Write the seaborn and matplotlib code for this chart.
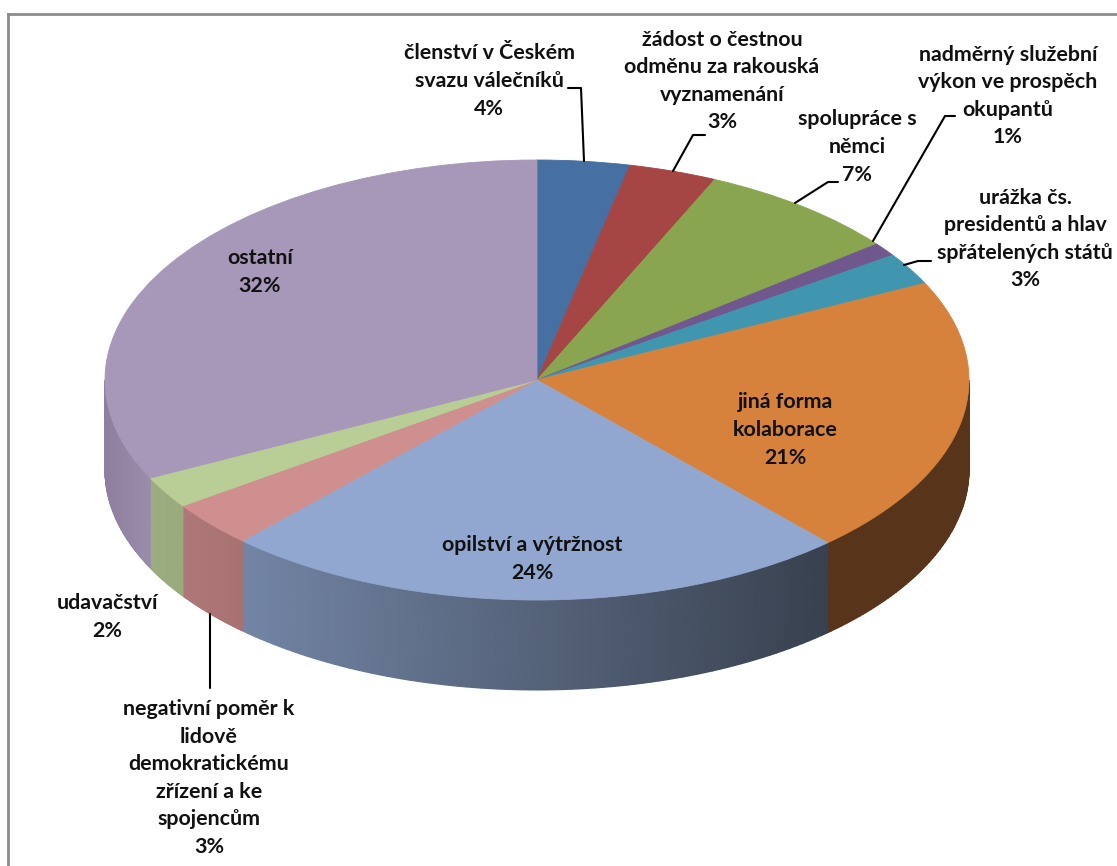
import numpy as np
import matplotlib
matplotlib.use("Agg")
import matplotlib.pyplot as plt
from matplotlib.colors import LinearSegmentedColormap
from matplotlib.transforms import Affine2D
import seaborn as sns

# ---------- data ----------
categories = ["členství v Českém\nsvazu válečníků", "žádost o čestnou\nodměnu za rakouská\nvyznamenání",
              "spolupráce s\nněmci", "nadměrný služební\nvýkon ve prospěch\nokupantů",
              "urážka čs.\npresidentů a hlav\nspřátelených států", "jiná forma\nkolaborace",
              "opilství a výtržnost", "negativní poměr k\nlidově\ndemokratickému\nzřízení a ke\nspojencům",
              "udavačství", "ostatní"]
percent_labels = ["4%", "3%", "7%", "1%", "3%", "21%", "24%", "3%", "2%", "32%"]
values = [3.45, 3.3, 7.65, 1.0, 2.35, 20.5, 23.7, 3.35, 2.35, 32.35]
top_colors = ["#466fa2", "#a54544", "#8aa54f", "#70588f", "#4096ae", "#d6823c",
              "#92a7cf", "#ce8f8e", "#b9cd96", "#a797b9"]
wall_left = ["#000000"] * 5 + ["#57341a", "#7385a5", "#ae7878", "#9cad80", "#8f7f9e"]
wall_right = ["#000000"] * 5 + ["#57341a", "#38414f", "#a87272", "#9aaa7c", "#9a8cab"]
label_centers = [(489, 81), (722, 81), (857, 147), (1008, 96), (1025, 239),
                 (785, 430), (532, 559), (209, 778), (107, 617), (260, 272)]
leaders = {0: ([568, 581, 584], [88, 88, 161]),
           1: ([705, 693, 673], [135, 135, 171]),
           2: ([838, 828, 795], [182, 182, 203]),
           3: ([955, 945, 873], [116, 116, 241]),
           4: ([931, 918, 904], [261, 261, 265]),
           7: ([210, 210], [614, 688])}

# ---------- geometry of the chart in pixels ----------
W, H = 1117, 866
CX, CY, RX, RY, DEPTH = 537, 380, 432, 220, 90
LEFT, TOP = 8, 14

sns.set_theme(style="white")
plt.rcParams["font.family"] = ["Lato", "DejaVu Sans"]
fig = plt.figure(figsize=(W / 100, H / 100), dpi=100, facecolor="white")
ax = fig.add_axes([LEFT / W, 0, (W - LEFT) / W, (H - TOP) / H])

wedges, _ = ax.pie(values, colors=top_colors, startangle=90, counterclock=False, radius=1,
                   wedgeprops=dict(linewidth=0.6, zorder=3))
for w, c in zip(wedges, top_colors):
    w.set_edgecolor(c)

ax.set_aspect("auto")
ax.set_frame_on(True)
ax.set_xlim((LEFT - CX) / RX, (W - CX) / RX)
ax.set_ylim((CY - H) / RY, (CY - TOP) / RY)
ax.set_xticks([])
ax.set_yticks([])
for side in ("right", "bottom"):
    ax.spines[side].set_visible(False)
for side in ("top", "left"):
    ax.spines[side].set_visible(True)
    ax.spines[side].set_color("#8c8c8c")
    ax.spines[side].set_linewidth(2)

# side wall, taken from the same cumulative shares
edges = np.concatenate([[0], np.cumsum(values)]) / np.sum(values) * 360
d = DEPTH / RY
for i in range(len(values)):
    a, b = max(edges[i], 90), min(edges[i + 1], 270)
    if a >= b:
        continue
    th = np.radians(np.linspace(a, b, 80))
    xs, ys = np.sin(th), np.cos(th)
    X = np.vstack([xs, xs])
    Y = np.vstack([ys, ys - d])
    cmap = LinearSegmentedColormap.from_list("w", [wall_left[i], wall_right[i]])
    C = (X - X.min()) / (X.max() - X.min())
    ax.pcolormesh(X, Y, C, cmap=cmap, shading="gouraud", vmin=0, vmax=1, zorder=2)

pixels = Affine2D().scale(1, -1).translate(0, H)
for i, (cat, pct) in enumerate(zip(categories, percent_labels)):
    x, y = label_centers[i]
    ax.text(x, y, f"{cat}\n{pct}", transform=pixels, ha="center", va="center", ma="center",
            fontsize=15.4, fontweight="bold", color="#111111", linespacing=1.47, zorder=5, clip_on=False)
for i, (lx, ly) in leaders.items():
    ax.plot(lx, ly, transform=pixels, color="black", lw=1.5, zorder=4, clip_on=False)

fig.savefig("out.png", dpi=100)
